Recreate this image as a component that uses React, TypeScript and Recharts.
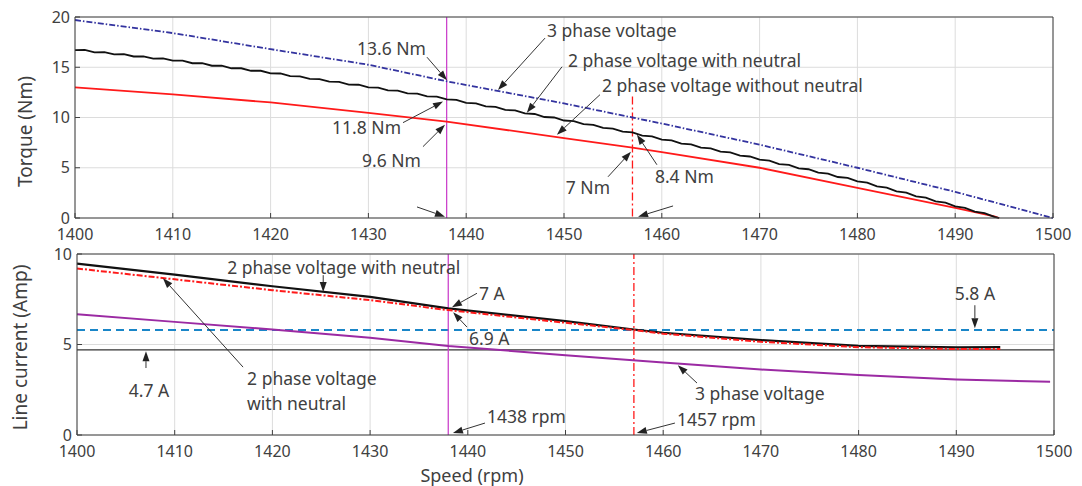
import React from "react";
import { CartesianGrid, Line, LineChart, ReferenceLine, XAxis, YAxis } from "recharts";

const FONT = '"Noto Sans", sans-serif';
const TEXT = "#404040";
const AXIS = "#404040";

const speedTicks = [1400, 1410, 1420, 1430, 1440, 1450, 1460, 1470, 1480, 1490, 1500];
const torqueTicks = [0, 5, 10, 15, 20];
const currentTicks = [0, 5, 10];

// top panel: torque
const torqueRpm3Phase = [1400, 1410, 1420, 1430, 1438, 1450, 1457, 1460, 1470, 1480, 1490, 1500];
const torque3Phase = [19.7, 18.4, 16.8, 15.25, 13.6, 11.4, 10.0, 9.4, 7.3, 5.0, 2.6, 0];

const torqueRpmWithNeutral = [
  1400, 1401, 1402, 1403, 1404, 1405, 1406, 1407, 1408, 1409,
  1410, 1411, 1412, 1413, 1414, 1415, 1416, 1417, 1418, 1419,
  1420, 1421, 1422, 1423, 1424, 1425, 1426, 1427, 1428, 1429,
  1430, 1431, 1432, 1433, 1434, 1435, 1436, 1437, 1438, 1439,
  1440, 1441, 1442, 1443, 1444, 1445, 1446, 1447, 1448, 1449,
  1450, 1451, 1452, 1453, 1454, 1455, 1456, 1457, 1458, 1459,
  1460, 1461, 1462, 1463, 1464, 1465, 1466, 1467, 1468, 1469,
  1470, 1471, 1472, 1473, 1474, 1475, 1476, 1477, 1478, 1479,
  1480, 1481, 1482, 1483, 1484, 1485, 1486, 1487, 1488, 1489,
  1490, 1491, 1492, 1493, 1494, 1494.5,
];
const torqueWithNeutral = [
  16.7, 16.72, 16.49, 16.51, 16.28, 16.3, 16.07, 16.09, 15.86, 15.88,
  15.65, 15.65, 15.4, 15.4, 15.15, 15.15, 14.9, 14.9, 14.65, 14.65,
  14.4, 14.38, 14.12, 14.1, 13.84, 13.82, 13.56, 13.54, 13.28, 13.26,
  13.0, 12.97, 12.7, 12.67, 12.4, 12.37, 12.1, 12.07, 11.8, 11.75,
  11.45, 11.4, 11.1, 11.05, 10.75, 10.7, 10.4, 10.35, 10.05, 10.0,
  9.7, 9.63, 9.33, 9.26, 8.96, 8.89, 8.59, 8.52, 8.2, 8.12,
  7.8, 7.72, 7.4, 7.32, 7.0, 6.92, 6.6, 6.52, 6.2, 6.12,
  5.8, 5.71, 5.37, 5.28, 4.94, 4.85, 4.51, 4.42, 4.08, 3.99,
  3.65, 3.52, 3.15, 3.02, 2.65, 2.52, 2.15, 2.02, 1.65, 1.52,
  1.15, 1.01, 0.63, 0.49, 0.12, 0,
];

const torqueRpmNoNeutral = [1400, 1410, 1420, 1430, 1438, 1450, 1457, 1460, 1470, 1480, 1490, 1494, 1494.5];
const torqueNoNeutral = [13.0, 12.3, 11.5, 10.45, 9.6, 7.95, 7.0, 6.55, 5.0, 3.0, 1.0, 0.15, 0];

// bottom panel: line current
const currentRpm2Phase = [1400, 1410, 1420, 1430, 1438, 1450, 1457, 1460, 1470, 1480, 1490, 1494.5];
const currentBlack = [9.47, 8.86, 8.22, 7.63, 7.0, 6.29, 5.83, 5.65, 5.24, 4.92, 4.84, 4.86];
const currentRed = [9.2, 8.6, 8.0, 7.45, 6.9, 6.2, 5.8, 5.6, 5.15, 4.85, 4.75, 4.75];
const currentRpm3Phase = [1400, 1410, 1420, 1430, 1438, 1450, 1460, 1470, 1480, 1490, 1499.6];
const current3Phase = [6.67, 6.25, 5.83, 5.37, 4.92, 4.41, 4.0, 3.62, 3.31, 3.07, 2.94];

const ratedCurrent = 5.8;
const noLoadCurrent = 4.7;
const speedA = 1438;
const speedB = 1457;

const zip = (xs: number[], ys: number[]) => xs.map((rpm, i) => ({ rpm, v: ys[i] }));

type Note = {
  text: string[];
  from: [number, number];
  to: [number, number];
  dx: number;
  dy: number;
  anchor: "start" | "middle" | "end";
};

const torqueNotes: Note[] = [
  { text: ["3 phase voltage"], from: [1448.06, 17.9], to: [1443.25, 12.74], dx: 2, dy: -8, anchor: "start" },
  { text: ["13.6 Nm"], from: [1435.99, 16.0], to: [1438.04, 13.7], dx: -1, dy: -9, anchor: "end" },
  { text: ["2 phase voltage with neutral"], from: [1449.8, 15.05], to: [1446.2, 10.47], dx: 6, dy: -7, anchor: "start" },
  { text: ["2 phase voltage without neutral"], from: [1453.68, 12.27], to: [1449.28, 8.29], dx: 2, dy: -10, anchor: "start" },
  { text: ["11.8 Nm"], from: [1433.54, 9.49], to: [1437.63, 11.58], dx: -2, dy: 4, anchor: "end" },
  { text: ["9.6 Nm"], from: [1435.58, 7.1], to: [1437.83, 9.28], dx: -2, dy: 13, anchor: "end" },
  { text: ["7 Nm"], from: [1454.5, 4.1], to: [1456.85, 6.6], dx: 2, dy: 10, anchor: "end" },
  { text: ["8.4 Nm"], from: [1459.5, 5.3], to: [1457.46, 8.29], dx: -2, dy: 11, anchor: "start" },
  { text: [], from: [1434.97, 1.1], to: [1437.83, 0.13], dx: 0, dy: 0, anchor: "start" },
  { text: [], from: [1461.15, 1.2], to: [1457.57, 0.13], dx: 0, dy: 0, anchor: "start" },
];

const currentNotes: Note[] = [
  { text: ["2 phase voltage with neutral"], from: [1425.2, 8.83], to: [1425.2, 7.9], dx: -96, dy: -8, anchor: "start" },
  { text: ["2 phase voltage", "with neutral"], from: [1417.0, 3.75], to: [1408.8, 8.66], dx: 4, dy: 11, anchor: "start" },
  { text: ["4.7 A"], from: [1407.06, 3.7], to: [1407.06, 4.63], dx: 3, dy: 22, anchor: "middle" },
  { text: ["7 A"], from: [1440.94, 7.83], to: [1438.38, 7.06], dx: 2, dy: 0, anchor: "start" },
  { text: ["6.9 A"], from: [1439.92, 5.96], to: [1438.5, 6.78], dx: 2, dy: 11, anchor: "start" },
  { text: ["3 phase voltage"], from: [1463.46, 2.87], to: [1461.5, 3.86], dx: -2, dy: 10, anchor: "start" },
  { text: ["5.8 A"], from: [1491.9, 7.17], to: [1491.9, 5.9], dx: 0, dy: -12, anchor: "middle" },
  { text: ["1438 rpm"], from: [1441.76, 0.66], to: [1438.48, 0.11], dx: 2, dy: -7, anchor: "start" },
  { text: ["1457 rpm"], from: [1461.2, 0.66], to: [1457.3, 0.11], dx: 2, dy: -4, anchor: "start" },
];

const noteShape = (note: Note) => (props: any) => {
  const { x1, y1, x2, y2 } = props;
  const ang = Math.atan2(y2 - y1, x2 - x1);
  const len = 10;
  const half = 3.5;
  const bx = x2 - len * Math.cos(ang);
  const by = y2 - len * Math.sin(ang);
  const px = -Math.sin(ang) * half;
  const py = Math.cos(ang) * half;
  return (
    <g>
      <line x1={x1} y1={y1} x2={bx} y2={by} stroke="#333" strokeWidth={1} />
      <polygon points={`${x2},${y2} ${bx + px},${by + py} ${bx - px},${by - py}`} fill="#222" />
      {note.text.map((t, i) => (
        <text
          key={i}
          x={x1 + note.dx}
          y={y1 + note.dy + i * 25}
          textAnchor={note.anchor}
          dominantBaseline="central"
          fill={TEXT}
          fontSize={17.5}
          fontFamily={FONT}
        >
          {t}
        </text>
      ))}
    </g>
  );
};

const renderNotes = (notes: Note[]) =>
  notes.map((n, i) => (
    <ReferenceLine
      key={`note-${i}`}
      segment={[{ x: n.from[0], y: n.from[1] }, { x: n.to[0], y: n.to[1] }]}
      shape={noteShape(n)}
    />
  ));

const yTitle = (text: string, dx: number, dy: number) => (props: any) => {
  const vb = props.viewBox;
  const cx = vb.x + dx;
  const cy = vb.y + vb.height / 2 + dy;
  return (
    <text
      x={cx}
      y={cy}
      transform={`rotate(-90 ${cx} ${cy})`}
      textAnchor="middle"
      dominantBaseline="central"
      fill={TEXT}
      fontSize={19}
      fontFamily={FONT}
    >
      {text}
    </text>
  );
};

const speedTitle = (props: any) => {
  const vb = props.viewBox;
  return (
    <text x={vb.x + 395} y={vb.y + 40} textAnchor="middle" dominantBaseline="central" fill={TEXT} fontSize={18} fontFamily={FONT}>
      Speed (rpm)
    </text>
  );
};

const tickStyle = { fill: TEXT, fontSize: 16, fontFamily: FONT };

const boxAxes = (domainY: number[], ticksY: number[]) => [
  <XAxis
    key="top"
    xAxisId="top"
    orientation="top"
    mirror
    type="number"
    domain={[1400, 1500]}
    ticks={speedTicks}
    tick={false}
    tickSize={5}
    stroke={AXIS}
  />,
  <YAxis
    key="right"
    yAxisId="right"
    orientation="right"
    mirror
    type="number"
    domain={domainY}
    ticks={ticksY}
    tick={false}
    tickSize={5}
    stroke={AXIS}
  />,
];

export default function App() {
  return (
    <div style={{ position: "absolute", left: 0, top: 0, width: 1082, height: 486, background: "#fff" }}>
      <div style={{ position: "absolute", left: 0, top: 0 }}>
        <LineChart width={1082} height={252} margin={{ top: 17, right: 29, left: 30, bottom: 9 }}>
          <CartesianGrid stroke="#dcdcdc" />
          <XAxis
            type="number"
            dataKey="rpm"
            domain={[1400, 1500]}
            ticks={speedTicks}
            height={25}
            tickSize={-5}
            tickMargin={16}
            tick={tickStyle}
            stroke={AXIS}
            allowDuplicatedCategory={false}
          />
          <YAxis
            type="number"
            domain={[0, 20]}
            ticks={torqueTicks}
            width={45}
            tickSize={-5}
            tickMargin={10}
            tick={tickStyle}
            stroke={AXIS}
            label={yTitle("Torque (Nm)", -5, 14)}
          />
          {boxAxes([0, 20], torqueTicks)}
          <ReferenceLine x={speedA} stroke="#cc44cc" strokeWidth={1.3} />
          <ReferenceLine
            segment={[{ x: speedB, y: 12.1 }, { x: speedB, y: 0 }]}
            stroke="#ff1a1a"
            strokeWidth={1.3}
            strokeDasharray="8 3 2 3"
          />
          <Line data={zip(torqueRpmNoNeutral, torqueNoNeutral)} dataKey="v" type="linear" stroke="#ff1a1a" strokeWidth={1.8} dot={false} isAnimationActive={false} />
          <Line data={zip(torqueRpmWithNeutral, torqueWithNeutral)} dataKey="v" type="linear" stroke="#111" strokeWidth={1.8} dot={false} isAnimationActive={false} />
          <Line data={zip(torqueRpm3Phase, torque3Phase)} dataKey="v" type="linear" stroke="#33339f" strokeWidth={1.8} strokeDasharray="6 2 1.5 2" dot={false} isAnimationActive={false} />
          {renderNotes(torqueNotes)}
        </LineChart>
      </div>
      <div style={{ position: "absolute", left: 0, top: 233 }}>
        <LineChart width={1082} height={253} margin={{ top: 21, right: 28, left: 32, bottom: 6 }}>
          <CartesianGrid stroke="#dcdcdc" />
          <XAxis
            type="number"
            dataKey="rpm"
            domain={[1400, 1500]}
            ticks={speedTicks}
            height={45}
            tickSize={-5}
            tickMargin={16}
            tick={tickStyle}
            stroke={AXIS}
            allowDuplicatedCategory={false}
            label={speedTitle}
          />
          <YAxis
            type="number"
            domain={[0, 10]}
            ticks={currentTicks}
            width={45}
            tickSize={-5}
            tickMargin={10}
            tick={tickStyle}
            stroke={AXIS}
            label={yTitle("Line current (Amp)", -12, 3)}
          />
          {boxAxes([0, 10], currentTicks)}
          <ReferenceLine y={noLoadCurrent} stroke="#333" strokeWidth={1.2} />
          <ReferenceLine y={ratedCurrent} stroke="#1a86c8" strokeWidth={2} strokeDasharray="8 5" />
          <ReferenceLine x={speedA} stroke="#cc44cc" strokeWidth={1.3} />
          <ReferenceLine x={speedB} stroke="#ff1a1a" strokeWidth={1.3} strokeDasharray="8 3 2 3" />
          <Line data={zip(currentRpm3Phase, current3Phase)} dataKey="v" type="linear" stroke="#9b2aa3" strokeWidth={2} dot={false} isAnimationActive={false} />
          <Line data={zip(currentRpm2Phase, currentBlack)} dataKey="v" type="linear" stroke="#111" strokeWidth={2.2} dot={false} isAnimationActive={false} />
          <Line data={zip(currentRpm2Phase, currentRed)} dataKey="v" type="linear" stroke="#ff1a1a" strokeWidth={2} strokeDasharray="6 2 2 2" dot={false} isAnimationActive={false} />
          {renderNotes(currentNotes)}
        </LineChart>
      </div>
    </div>
  );
}
